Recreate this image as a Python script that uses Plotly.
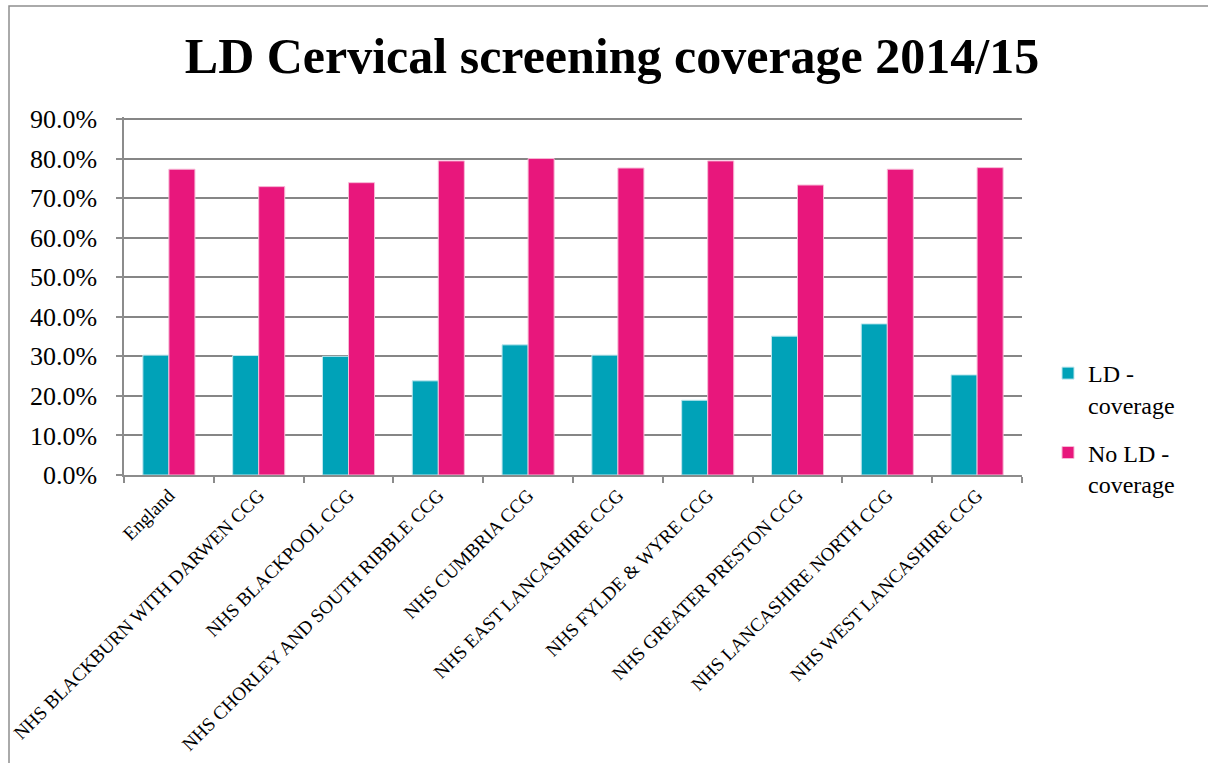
import plotly.graph_objects as go

categories = ["England", "NHS BLACKBURN WITH DARWEN CCG", "NHS BLACKPOOL CCG",
              "NHS CHORLEY AND SOUTH RIBBLE CCG", "NHS CUMBRIA CCG", "NHS EAST LANCASHIRE CCG",
              "NHS FYLDE & WYRE CCG", "NHS GREATER PRESTON CCG", "NHS LANCASHIRE NORTH CCG",
              "NHS WEST LANCASHIRE CCG"]
ld_coverage = [0.303, 0.302, 0.300, 0.238, 0.329, 0.303, 0.189, 0.351, 0.382, 0.253]
no_ld_coverage = [0.773, 0.729, 0.739, 0.794, 0.800, 0.776, 0.794, 0.733, 0.773, 0.777]
series_names = ["LD -<br>coverage", "No LD -<br>coverage"]
y_ticks = [i / 10 for i in range(10)]

W, H = 1208, 763
L, R, T, B = 124, 186, 117, 288
pw, ph = W - L - R, H - T - B
base = H - B  # pixel y of the x axis

fig = go.Figure()
fig.add_trace(go.Bar(x=categories, y=ld_coverage, name=series_names[0], legendgroup="a",
                     marker=dict(color="#00A2B8", line=dict(color="#BFE7EE", width=1))))
fig.add_trace(go.Bar(x=categories, y=no_ld_coverage, name=series_names[1], legendgroup="b",
                     marker=dict(color="#E8177C", line=dict(color="#F7B9D6", width=1))))

fig.update_layout(
    width=W, height=H,
    margin=dict(l=L, r=R, t=T, b=B, autoexpand=False),
    paper_bgcolor="white", plot_bgcolor="white",
    barmode="group", bargap=0.42, bargroupgap=0,
    title=dict(text="<b>LD Cervical screening coverage 2014/15</b>",
               x=612 / W, xanchor="center", y=1 - 55 / H, yanchor="middle",
               font=dict(family="Liberation Serif", size=50, color="black")),
    font=dict(family="Liberation Serif", color="black"),
    legend=dict(x=(1048 - L) / pw, xanchor="left", y=(base - 351) / ph, yanchor="top",
                font=dict(family="Liberation Serif", size=24, color="black"),
                valign="top", itemwidth=30, tracegroupgap=14),
    xaxis=dict(showline=True, linecolor="#8C8C8C", linewidth=1.5, automargin=False,
               ticks="outside", tickson="boundaries", ticklen=6, tickcolor="#8C8C8C",
               tickwidth=1.5, tickangle=-45,
               tickfont=dict(family="Liberation Serif", size=19, color="black")),
    yaxis=dict(range=[0, 0.905], tickvals=y_ticks + [0.9], tickformat=".1%",
               showline=True, linecolor="#8C8C8C", linewidth=1.5, automargin=False,
               ticks="outside", ticklen=6, tickcolor="#8C8C8C", tickwidth=1.5,
               ticklabelstandoff=14,
               showgrid=True, gridcolor="#868686", gridwidth=2,
               tickfont=dict(family="Liberation Serif", size=26, color="black")),
    shapes=[dict(type="rect", xref="paper", yref="paper",
                 x0=(9 - L) / pw, x1=(1225 - L) / pw,
                 y0=(base - 790) / ph, y1=(base - 6) / ph,
                 line=dict(color="#8E8E8E", width=1.5), fillcolor="rgba(0,0,0,0)",
                 layer="below")],
)

fig.write_html("out.html", config={"displayModeBar": False},
               post_script="document.body.style.margin='0';document.body.style.overflow='hidden';")
